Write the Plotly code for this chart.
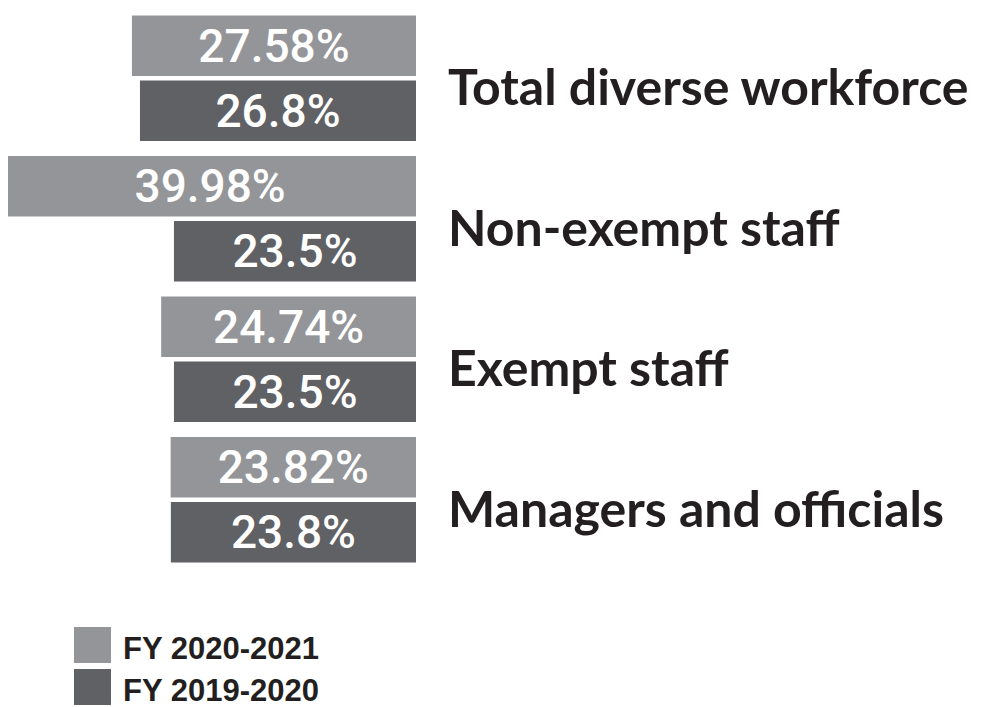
import plotly.graph_objects as go

categories = ["Total diverse workforce", "Non-exempt staff", "Exempt staff", "Managers and officials"]
series_names = ["FY 2020-2021", "FY 2019-2020"]
fy2021 = [27.58, 39.98, 24.74, 23.82]
fy2020 = [26.8, 23.5, 23.5, 23.8]

light = "#949599"
dark = "#606165"
label_color = "#231f20"

# page is 982x707; the html body adds an 8px margin, so the figure is drawn 8px in
OFF = 8
W, H = 982 - OFF, 707 - OFF


def px(x):
    return (x - OFF) / W


def py(y):
    return 1 - (y - OFF) / H


fig = go.Figure()
for name, vals, col in [(series_names[0], fy2021, light), (series_names[1], fy2020, dark)]:
    fig.add_trace(go.Bar(
        y=categories, x=vals, orientation="h", name=name,
        marker=dict(color=col, line=dict(width=0)),
        text=[f"{v}%" for v in vals],
        textposition="inside", insidetextanchor="middle",
        textfont=dict(family="Roboto, Liberation Sans, sans-serif", size=46, color="white",
                      weight=500),
        showlegend=False, hoverinfo="skip",
    ))

fig.update_layout(
    width=W, height=H,
    margin=dict(l=0, r=0, t=0, b=0),
    paper_bgcolor="white", plot_bgcolor="white",
    barmode="group", bargap=0.073, bargroupgap=0.07,
    uniformtext=dict(minsize=46, mode="show"),
    xaxis=dict(domain=[0, px(416)], range=[(416 - OFF) / 10.3, 0], visible=False, fixedrange=True),
    yaxis=dict(domain=[py(570), py(8)], range=[3.5, -0.5], visible=False,
               type="category", categoryarray=categories, fixedrange=True),
)

# category labels to the right of the bars
for c in categories:
    fig.add_annotation(
        x=px(446), xref="paper", y=c, yref="y", xanchor="left", yanchor="middle",
        text=c, showarrow=False, yshift=-8,
        font=dict(family="Lato, sans-serif", size=50, color=label_color, weight="bold"),
    )

# custom legend
leg = [(series_names[0], light, 627, 663), (series_names[1], dark, 669, 705)]
for name, col, top, bot in leg:
    fig.add_shape(type="rect", xref="paper", yref="paper",
                  x0=px(74), x1=px(111), y0=py(bot), y1=py(top),
                  fillcolor=col, line=dict(width=0))
    fig.add_annotation(x=px(121), xref="paper", y=py((top + bot) / 2 + 3), yref="paper",
                       xanchor="left", yanchor="middle", text=name, showarrow=False,
                       font=dict(family="Liberation Sans, Arial, sans-serif", size=31,
                                 color=label_color, weight="bold"))

fig.write_html("out.html")
